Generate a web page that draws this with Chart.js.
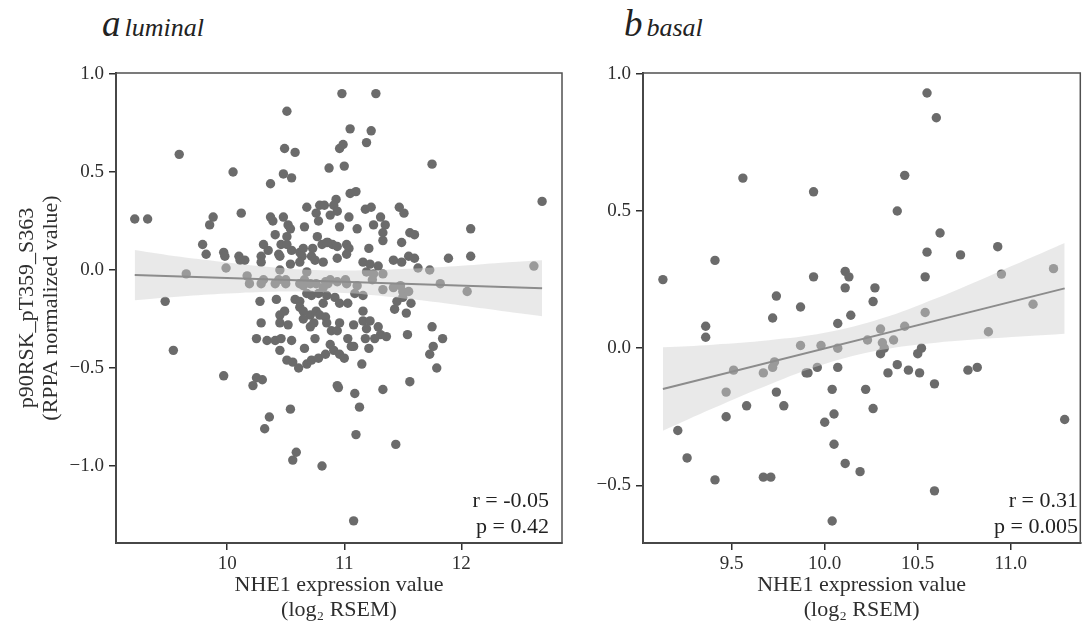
<!DOCTYPE html>
<html>
<head>
<meta charset="utf-8">
<script src="https://cdn.jsdelivr.net/npm/chart.js@4.4.1/dist/chart.umd.min.js"></script>
<style>
  html, body { margin: 0; padding: 0; background: #fff; width: 1085px; height: 622px; overflow: hidden; }
  .box { position: absolute; top: 0; height: 622px; }
  #lumBox { left: 0; width: 575px; }
  #basBox { left: 575px; width: 510px; }
  .ttl { position: absolute; top: 6px; line-height: 36px; font-family: "Liberation Serif", serif; font-style: italic; color: #222; white-space: nowrap; }
  .ttl .big { font-size: 37px; }
  .ttl .small { font-size: 26px; }
  .stat { position: absolute; width: 200px; top: 487px; font-family: "Liberation Serif", serif; font-size: 22px; line-height: 26px; color: #222; text-align: right; white-space: nowrap; }
</style>
</head>
<body>
<div class="ttl" style="left:102px"><span class="big">a</span> <span class="small">luminal</span></div>
<div class="ttl" style="left:624px"><span class="big">b</span> <span class="small">basal</span></div>

<div class="box" id="lumBox"><canvas id="lumChart" width="575" height="622"></canvas></div>
<div class="box" id="basBox"><canvas id="basChart" width="510" height="622"></canvas></div>

<div class="stat" style="left:349px">r = -0.05<br>p = 0.42</div>
<div class="stat" style="left:878px">r = 0.31<br>p = 0.005</div>

<script>
// luminal: [NHE1 log2 RSEM, p90RSK RPPA]
const lumPts = [
  [10.98,0.90],[11.27,0.90],[10.51,0.81],[11.05,0.72],[11.23,0.71],[11.19,0.65],[10.96,0.62],[10.99,0.64],
  [10.49,0.62],[10.58,0.60],[9.59,0.59],[11.75,0.54],[10.87,0.52],[11.00,0.53],[10.05,0.50],[10.48,0.49],
  [10.55,0.47],[10.37,0.44],[11.05,0.39],[11.10,0.40],
  [9.21,0.26],[9.32,0.26],[9.88,0.27],[9.85,0.23],[10.12,0.29],[10.37,0.27],[10.39,0.25],[10.48,0.27],
  [10.68,0.32],[10.79,0.33],[10.83,0.33],[10.93,0.36],[10.91,0.33],[10.76,0.29],[10.78,0.25],[10.88,0.28],
  [10.94,0.30],[11.04,0.27],[10.96,0.22],[11.11,0.21],[10.52,0.23],[10.54,0.21],[10.51,0.17],[10.66,0.22],
  [10.41,0.18],[10.77,0.17],[10.86,0.14],[10.90,0.13],[10.46,0.13],[10.51,0.13],[10.55,0.10],[10.31,0.13],
  [10.35,0.10],[10.29,0.07],[9.79,0.13],[9.82,0.08],[9.97,0.09],[9.98,0.07],[10.10,0.07],[10.15,0.05],
  [10.44,0.08],[10.45,0.07],[10.62,0.09],[10.65,0.11],[10.73,0.11],[10.81,0.13],[10.85,0.14],[10.94,0.12],
  [11.02,0.13],[11.04,0.11],[10.64,0.07],[10.72,0.07],[10.94,0.06],[11.02,0.08],[11.18,0.31],[11.23,0.32],
  [11.47,0.32],[11.51,0.29],[11.31,0.27],[11.35,0.23],[11.25,0.23],[11.56,0.19],[11.60,0.18],[11.33,0.19],
  [11.33,0.15],[11.49,0.14],[12.08,0.21],[11.21,0.11],[12.69,0.35],
  [11.16,0.04],[11.22,0.03],[11.29,0.02],[11.42,0.05],[11.49,0.04],[11.55,0.07],[11.60,0.06],[11.63,0.01],
  [11.73,0.00],[11.89,0.06],[12.08,0.07],[12.62,0.02],[10.11,0.05],[10.29,0.04],[10.45,0.00],[10.54,0.03],
  [10.62,0.04],[10.68,-0.01],[10.75,0.05],[10.82,0.04],[9.99,0.01],[9.65,-0.02],[11.19,-0.01],[11.25,-0.02],
  [11.33,-0.02],[10.17,-0.03],[10.19,-0.07],[10.29,-0.07],[10.31,-0.05],[10.41,-0.07],[10.44,-0.05],[10.50,-0.05],
  [10.50,-0.07],[10.62,-0.07],[10.66,-0.05],[10.71,-0.07],[10.76,-0.07],[10.84,-0.06],[10.86,-0.07],[11.01,-0.05],
  [11.02,-0.07],[11.11,-0.08],[11.24,-0.05],[11.33,-0.10],[11.42,-0.09],[11.48,-0.08],[11.50,-0.11],[11.55,-0.11],
  [11.82,-0.07],[12.05,-0.11],[10.65,-0.08],[10.82,-0.09],[10.88,-0.05],[10.94,-0.06],
  [9.47,-0.16],[10.28,-0.16],[10.42,-0.15],[10.58,-0.15],[10.62,-0.16],[10.68,-0.12],[10.72,-0.13],[10.78,-0.12],
  [10.85,-0.13],[10.92,-0.14],[10.96,-0.17],[11.03,-0.17],[11.09,-0.12],[11.16,-0.13],[11.45,-0.16],[11.43,-0.20],
  [11.50,-0.14],[11.57,-0.17],[11.53,-0.22],[11.16,-0.21],[10.49,-0.21],[10.45,-0.23],[10.45,-0.27],[10.52,-0.28],
  [10.62,-0.19],[10.65,-0.21],[10.71,-0.23],[10.76,-0.21],[10.79,-0.23],[10.84,-0.24],[10.82,-0.17],[10.29,-0.27],
  [10.65,-0.25],[10.71,-0.29],[10.74,-0.27],[10.85,-0.27],[10.89,-0.31],[10.94,-0.31],[10.96,-0.27],[11.08,-0.28],
  [11.16,-0.26],[11.22,-0.26],[11.19,-0.30],[11.29,-0.29],[11.31,-0.33],[11.36,-0.34],[11.26,-0.35],[11.18,-0.35],
  [11.08,-0.39],[11.21,-0.40],[11.54,-0.33],[11.75,-0.29],[11.84,-0.35],[11.76,-0.39],[11.73,-0.43],[11.79,-0.50],
  [11.15,-0.48],[11.56,-0.57],[11.33,-0.61],[11.09,-0.63],[11.13,-0.70],
  [10.25,-0.35],[10.34,-0.36],[10.41,-0.36],[10.46,-0.35],[10.55,-0.36],[10.45,-0.41],[10.66,-0.40],[10.75,-0.35],
  [10.88,-0.38],[10.91,-0.41],[10.96,-0.43],[11.00,-0.45],[10.51,-0.46],[10.56,-0.47],[10.61,-0.50],[10.68,-0.48],
  [10.72,-0.46],[10.78,-0.45],[10.84,-0.43],[11.03,-0.35],[11.06,-0.39],
  [9.97,-0.54],[10.25,-0.55],[10.30,-0.56],[10.22,-0.59],[10.94,-0.59],[10.95,-0.60],[10.54,-0.71],[9.54,-0.41],
  [10.36,-0.75],[10.32,-0.81],[10.59,-0.93],[10.56,-0.97],[10.81,-1.00],[11.10,-0.84],[11.44,-0.89],[11.08,-1.28]
];

// basal
const basPts = [
  [9.13,0.25],[9.41,0.32],[9.36,0.08],[9.36,0.04],[9.21,-0.30],[9.26,-0.40],[9.41,-0.48],[9.47,-0.25],
  [9.47,-0.16],[9.51,-0.08],[9.58,-0.21],[9.67,-0.09],[9.67,-0.47],[9.71,-0.47],[9.72,-0.07],[9.73,-0.05],
  [9.74,-0.16],[9.72,0.11],[9.74,0.19],[9.78,-0.21],[9.87,0.15],[9.87,0.01],[9.90,-0.09],[9.91,-0.09],
  [9.94,0.26],[9.96,-0.07],[9.98,0.01],[10.00,-0.27],[10.04,-0.15],[10.05,-0.24],[10.05,-0.35],[10.04,-0.63],
  [10.07,0.09],[10.07,0.00],[10.07,-0.07],[10.11,-0.42],[10.11,0.28],[10.13,0.26],[10.11,0.22],[10.14,0.12],
  [10.19,-0.45],[10.22,-0.15],[10.23,0.03],[10.26,-0.22],[10.26,0.17],[10.27,0.22],[10.30,0.07],[10.30,-0.02],
  [10.31,0.02],[10.32,0.00],[10.34,-0.09],[10.37,0.03],[10.39,-0.06],[10.43,0.08],[10.45,-0.08],[10.50,-0.02],
  [10.51,-0.09],[10.52,0.00],[10.54,0.26],[10.54,0.13],[10.59,-0.13],[10.59,-0.52],[10.77,-0.08],[10.82,-0.07],
  [10.88,0.06],[10.95,0.27],[11.12,0.16],[11.23,0.29],[11.29,-0.26],[9.56,0.62],[9.94,0.57],[10.55,0.93],
  [10.60,0.84],[10.43,0.63],[10.39,0.50],[10.62,0.42],[10.55,0.35],[10.73,0.34],[10.93,0.37]
];

// regression line and 95% band
const lumFitX = [9.21, 12.69];
const lumFitY = [-0.026, -0.093];
const lumBandX = [9.21, 9.6, 10.0, 10.4, 10.8, 11.2, 11.6, 12.0, 12.4, 12.69];
const lumBandLo = [-0.154, -0.135, -0.120, -0.111, -0.113, -0.126, -0.151, -0.181, -0.213, -0.236];
const lumBandHi = [0.102, 0.067, 0.038, 0.013, -0.001, -0.002, 0.007, 0.021, 0.039, 0.050];

const basFitX = [9.13, 11.29];
const basFitY = [-0.149, 0.218];
const basBandX = [9.13, 9.4, 9.7, 10.0, 10.3, 10.6, 10.9, 11.29];
const basBandLo = [-0.301, -0.219, -0.133, -0.058, -0.007, 0.020, 0.036, 0.053];
const basBandHi = [0.003, 0.013, 0.029, 0.056, 0.107, 0.182, 0.268, 0.383];

// ticks
const lumXTicks = [10, 11, 12];
const lumXLabels = ['10', '11', '12'];
const lumYTicks = [1, 0.5, 0, -0.5, -1];
const lumYLabels = ['1.0', '0.5', '0.0', '\u22120.5', '\u22121.0'];
const basXTicks = [9.5, 10, 10.5, 11];
const basXLabels = ['9.5', '10.0', '10.5', '11.0'];
const basYTicks = [1, 0.5, 0, -0.5];
const basYLabels = ['1.0', '0.5', '0.0', '\u22120.5'];

const xTitle = ['NHE1 expression value', '(log\u2082 RSEM)'];
const yTitle = ['p90RSK_pT359_S363', '(RPPA normalized value)'];

const serif = '"Liberation Serif", "Times New Roman", serif';
const ink = '#2e2e2e';
Chart.defaults.font.family = serif;

// box round the panel
const frame = {
  id: 'frame',
  afterDatasetsDraw(chart) {
    const { ctx, chartArea: a } = chart;
    ctx.save();
    ctx.strokeStyle = '#505050';
    ctx.lineWidth = 1.5;
    ctx.strokeRect(a.left, a.top, a.right - a.left, a.bottom - a.top);
    ctx.restore();
  }
};

const xy = (xs, ys) => xs.map((x, i) => ({ x: x, y: ys[i] }));

function makePanel(id, o) {
  const ctx = document.getElementById(id).getContext('2d');
  return new Chart(ctx, {
    type: 'scatter',
    data: {
      datasets: [
        {
          data: o.pts.map(p => ({ x: p[0], y: p[1] })),
          backgroundColor: '#6b6b6b',
          borderWidth: 0,
          pointRadius: 4.7,
          order: 3
        },
        {
          type: 'line',
          data: xy(o.bandX, o.bandHi),
          borderWidth: 0,
          pointRadius: 0,
          tension: 0.4,
          fill: '+1',
          backgroundColor: 'rgba(208,208,208,0.47)',
          order: 2
        },
        {
          type: 'line',
          data: xy(o.bandX, o.bandLo),
          borderWidth: 0,
          pointRadius: 0,
          tension: 0.4,
          fill: false,
          order: 2
        },
        {
          type: 'line',
          data: xy(o.fitX, o.fitY),
          borderColor: '#8c8c8c',
          borderWidth: 2,
          pointRadius: 0,
          fill: false,
          order: 1
        }
      ]
    },
    options: {
      responsive: false,
      animation: false,
      layout: { padding: o.pad },
      plugins: { legend: { display: false }, tooltip: { enabled: false } },
      scales: {
        x: {
          type: 'linear',
          min: o.xMin, max: o.xMax,
          afterBuildTicks: s => { s.ticks = o.xTicks.map(v => ({ value: v })); },
          afterFit: s => { s.height = 79; },
          grid: { drawOnChartArea: false, drawTicks: true, tickLength: 7, color: ink, lineWidth: 1.5 },
          border: { display: true, color: ink, width: 2 },
          ticks: {
            autoSkip: false, maxRotation: 0, padding: 3, color: ink,
            font: { family: serif, size: 19 },
            callback: (v, i) => o.xLabels[i]
          },
          title: {
            display: true, text: xTitle, color: ink,
            font: { family: serif, size: 22, lineHeight: 1.1 },
            padding: { top: 0, bottom: 0 }
          }
        },
        y: {
          type: 'linear',
          min: o.yMin, max: o.yMax,
          afterBuildTicks: s => { s.ticks = o.yTicks.map(v => ({ value: v })); },
          afterFit: s => { s.width = o.yWidth; },
          grid: { drawOnChartArea: false, drawTicks: true, tickLength: 7, color: ink, lineWidth: 1.5 },
          border: { display: true, color: ink, width: 2 },
          ticks: {
            autoSkip: false, padding: 5, color: ink,
            font: { family: serif, size: 19 },
            callback: (v, i) => o.yLabels[i]
          },
          title: {
            display: o.yTitle, text: yTitle, color: ink,
            font: { family: serif, size: 22, lineHeight: 1.1 },
            padding: { top: 15, bottom: 0 }
          }
        }
      }
    },
    plugins: [frame]
  });
}

makePanel('lumChart', {
  pts: lumPts, fitX: lumFitX, fitY: lumFitY,
  bandX: lumBandX, bandLo: lumBandLo, bandHi: lumBandHi,
  xMin: 9.05, xMax: 12.86, yMin: -1.393, yMax: 1.005,
  xTicks: lumXTicks, xLabels: lumXLabels, yTicks: lumYTicks, yLabels: lumYLabels,
  yWidth: 116, yTitle: true,
  pad: { top: 73, right: 13, bottom: 0, left: 0 }
});

makePanel('basChart', {
  pts: basPts, fitX: basFitX, fitY: basFitY,
  bandX: basBandX, bandLo: basBandLo, bandHi: basBandHi,
  xMin: 9.023, xMax: 11.374, yMin: -0.71, yMax: 1.003,
  xTicks: basXTicks, xLabels: basXLabels, yTicks: basYTicks, yLabels: basYLabels,
  yWidth: 68, yTitle: false,
  pad: { top: 73, right: 0, bottom: 0, left: 0 }
});
</script>
</body>
</html>
